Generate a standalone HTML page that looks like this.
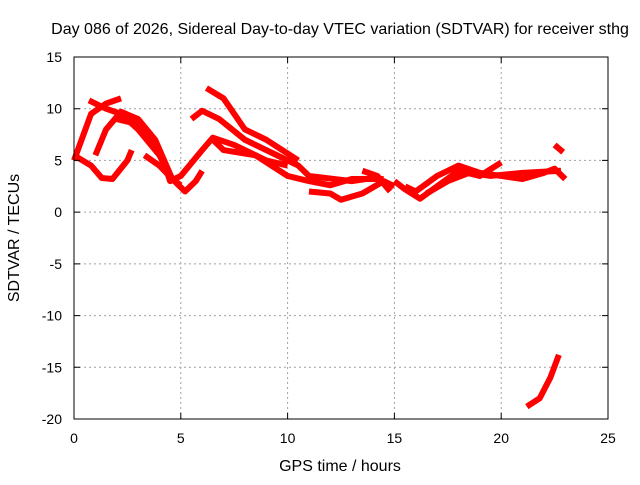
<!DOCTYPE html>
<html><head><meta charset="utf-8"><style>
body{margin:0;background:#fff}
svg text{font-family:"Liberation Sans",sans-serif;font-size:14px;fill:#000}
svg text.big{font-size:16px}
</style></head><body>
<svg id="c" width="640" height="480" xmlns="http://www.w3.org/2000/svg">
<rect width="640" height="480" fill="#fff"/>
<g id="grid"></g><g id="series"></g><g id="axes"></g>
<text class="big" x="340" y="34" text-anchor="middle">Day 086 of 2026, Sidereal Day-to-day VTEC variation (SDTVAR) for receiver sthg</text>
<text class="big" x="340" y="471" text-anchor="middle">GPS time / hours</text>
<text class="big" transform="translate(19,238) rotate(-90)" text-anchor="middle">SDTVAR / TECUs</text>
</svg>
<script>
const xTicks=[0,5,10,15,20,25];
const yTicks=[15,10,5,0,-5,-10,-15,-20];
const tracks=[
[[0,5],[0.8,9.5],[1.5,10.5],[2.2,11]],
[[0.7,10.8],[1.5,10],[2.2,9.5],[3,8],[4,5.5],[4.5,3.5]],
[[0,5.5],[0.8,4.5],[1.3,3.3],[1.8,3.2],[2.5,5],[2.7,6]],
[[1,5.5],[1.5,8],[2.2,9.7],[3,9],[3.8,7],[4.6,3.2],[5,2.6]],
[[2,9],[3,8.5],[4,6],[4.5,3],[5,3.5],[6,6],[6.5,7.2],[7.5,6.5],[9,5],[10,4.5]],
[[3.3,5.5],[4,4.5],[4.8,2.8],[5.2,2],[5.7,3],[6,4]],
[[5.5,9],[6,9.8],[6.8,9],[8,7],[9.5,5.5],[10.5,4.5],[11,3.5],[13,3],[14,3.3]],
[[6.2,12],[7,11],[8,8],[9,7],[10.5,5]],
[[6.5,7],[7,6],[8.5,5.5],[10,3.5],[11,3],[12,2.6],[13,3.2],[14.5,3.2]],
[[11,2],[12,1.8],[12.5,1.2],[13.5,1.8],[14.5,3],[15,2.5]],
[[13.5,4],[14.2,3.5],[14.8,2]],
[[15,3],[15.5,2.2],[16.2,1.3],[17,2.5],[18,4],[19,3.5],[20,4.8]],
[[15.5,2.5],[16,2],[17,3.5],[18,4.5],[19,3.8],[20,3.5],[21,3.2],[22,3.8],[22.5,4.2],[23,3.2]],
[[16.5,1.8],[17.5,3],[18.5,3.8],[19.5,3.5],[21,3.8],[22.8,4]],
[[22.5,6.5],[22.9,5.8]],
[[21.2,-18.8],[21.8,-18],[22.3,-16],[22.7,-13.8]]
];
const X0=74,X1=608,Y0=419,Y1=57;
const sx=v=>X0+(v-0)/25*(X1-X0);
const sy=v=>Y0-(v+20)/35*(Y0-Y1);
const NS='http://www.w3.org/2000/svg';
function mk(t,a,p){const e=document.createElementNS(NS,t);for(const k in a)e.setAttribute(k,a[k]);p.appendChild(e);return e;}
const grid=document.getElementById('grid'),axes=document.getElementById('axes'),ser=document.getElementById('series');
xTicks.forEach(t=>{const x=sx(t);
 if(t>0&&t<25){const l=mk('line',{x1:x,x2:x,y1:Y1,y2:Y0,stroke:'#a0a0a0','stroke-dasharray':'2,3'},grid);
 }
 const tk=mk('path',{d:`M${x},${Y0}v-6M${x},${Y1}v6`,stroke:'#000'},axes);
 
 const tx=mk('text',{x:x,y:Y0+24,'text-anchor':'middle'},axes);tx.textContent=t;
 });
yTicks.forEach(t=>{const y=sy(t);
 if(t>-20&&t<15){const l=mk('line',{x1:X0,x2:X1,y1:y,y2:y,stroke:'#a0a0a0','stroke-dasharray':'2,3'},grid);
 }
 const tk=mk('path',{d:`M${X0},${y}h6M${X1},${y}h-6`,stroke:'#000'},axes);
 
 const tx=mk('text',{x:X0-12,y:y+5,'text-anchor':'end'},axes);tx.textContent=t;
 });
const fr=mk('rect',{x:X0,y:Y1,width:X1-X0,height:Y0-Y1,fill:'none',stroke:'#000'},axes);

tracks.forEach(tr=>{const p=mk('polyline',{points:tr.map(d=>sx(d[0])+','+sy(d[1])).join(' '),fill:'none',stroke:'#ff0000','stroke-width':6,'stroke-linejoin':'round'},ser);
 });
</script>
</body></html>
